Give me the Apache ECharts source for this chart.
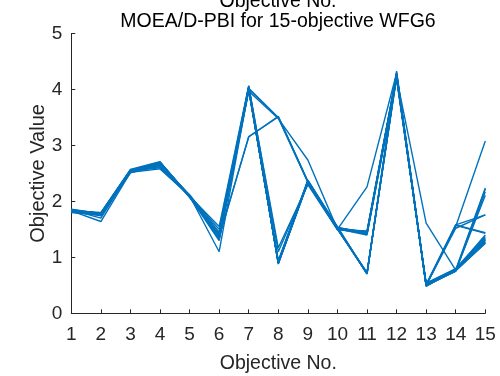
<!DOCTYPE html>
<html>
<head>
<meta charset="utf-8">
<script src="https://cdn.jsdelivr.net/npm/echarts@6/dist/echarts.min.js"></script>
<style>
  html, body { margin: 0; padding: 0; background: #fff; }
  #main { width: 500px; height: 376px; }
</style>
</head>
<body>
<div id="main"></div>
<script>
// objective index on the x axis
var objectives = [1, 2, 3, 4, 5, 6, 7, 8, 9, 10, 11, 12, 13, 14, 15];
var yTicks = [0, 1, 2, 3, 4, 5];

// final population, one row per solution
var solutions = [
  [1.84, 1.78, 2.55, 2.68, 2.09, 1.38, 4.02, 0.90, 2.35, 1.52, 1.45, 4.25, 0.50, 0.77, 1.30],
  [1.82, 1.77, 2.54, 2.70, 2.10, 1.36, 4.00, 0.92, 2.36, 1.53, 1.43, 4.22, 0.52, 0.78, 1.35],
  [1.85, 1.79, 2.56, 2.66, 2.08, 1.40, 4.05, 0.88, 2.33, 1.50, 1.47, 4.28, 0.49, 0.76, 1.25],
  [1.80, 1.76, 2.52, 2.64, 2.11, 1.33, 3.98, 0.93, 2.37, 1.54, 1.41, 4.20, 0.53, 0.79, 1.40],
  [1.83, 1.80, 2.57, 2.71, 2.07, 1.42, 4.03, 0.91, 2.34, 1.51, 0.72, 4.30, 0.51, 0.77, 2.22],
  [1.81, 1.75, 2.53, 2.69, 2.10, 1.35, 4.01, 0.89, 2.35, 1.52, 0.70, 4.26, 0.50, 0.75, 2.17],
  [1.86, 1.78, 2.55, 2.67, 2.09, 1.39, 4.06, 0.90, 2.36, 1.50, 0.73, 4.24, 0.48, 0.78, 1.28],
  [1.84, 1.74, 2.51, 2.65, 2.12, 1.45, 3.99, 0.94, 2.38, 1.55, 0.71, 4.33, 0.52, 1.58, 1.44],
  [1.82, 1.77, 2.56, 2.62, 2.10, 1.50, 4.04, 1.17, 2.30, 1.49, 1.46, 4.27, 0.50, 1.55, 3.08],
  [1.85, 1.70, 2.54, 2.60, 2.09, 1.55, 4.07, 1.10, 2.32, 1.51, 1.40, 4.18, 0.54, 0.80, 1.37],
  [1.83, 1.78, 2.55, 2.68, 2.10, 1.32, 4.02, 3.50, 2.35, 1.52, 1.44, 4.23, 0.51, 0.77, 1.32],
  [1.81, 1.76, 2.53, 2.66, 2.08, 1.30, 3.97, 3.48, 2.74, 1.50, 2.26, 4.29, 0.50, 1.52, 1.76],
  [1.84, 1.79, 2.56, 2.70, 2.09, 1.37, 3.15, 3.52, 2.36, 1.53, 0.72, 4.21, 1.61, 0.77, 1.25],
  [1.83, 1.64, 2.52, 2.58, 2.10, 1.10, 4.01, 0.91, 2.35, 1.52, 1.44, 4.24, 0.51, 0.76, 2.11],
  [1.82, 1.77, 2.55, 2.69, 2.09, 1.37, 4.00, 0.90, 2.34, 1.51, 0.71, 4.26, 0.50, 1.58, 1.76],
  [1.84, 1.78, 2.54, 2.67, 2.10, 1.41, 4.03, 0.92, 2.36, 1.53, 1.45, 4.22, 0.52, 0.77, 1.31],
  [1.85, 1.77, 2.56, 2.68, 2.08, 1.36, 4.02, 0.89, 2.35, 1.52, 0.72, 4.27, 0.49, 0.78, 2.24],
  [1.83, 1.79, 2.55, 2.70, 2.09, 1.34, 4.04, 0.91, 2.37, 1.50, 1.42, 4.29, 0.50, 0.76, 1.27],
  [1.84, 1.78, 2.53, 2.69, 2.10, 1.39, 4.01, 3.49, 2.34, 1.51, 0.71, 4.24, 0.51, 1.57, 1.43],
  [1.82, 1.76, 2.55, 2.66, 2.09, 1.35, 3.16, 3.51, 2.35, 1.52, 1.44, 4.26, 0.50, 0.77, 1.33]
];

var textColor = '#262626';
var fontFam = '"Liberation Sans", Arial, sans-serif';

var series = solutions.map(function (row) {
  return {
    type: 'line',
    symbol: 'none',
    silent: true,
    lineStyle: { color: '#0072BD', width: 1.4 },
    data: row.map(function (v, i) { return [objectives[i], v]; })
  };
});

var chart = echarts.init(document.getElementById('main'));
chart.setOption({
  animation: false,
  backgroundColor: '#fff',
  grid: { left: 71.3, right: 14.7, top: 33.5, bottom: 62.7, containLabel: false, outerBoundsMode: 'none' },
  graphic: [
    {
      type: 'text', x: 278, y: 2, silent: true,
      style: { text: 'Objective No.', fill: '#000', fontSize: 19.5, fontFamily: fontFam, align: 'center', verticalAlign: 'middle' }
    },
    {
      type: 'text', x: 278, y: 21.6, silent: true,
      style: { text: 'MOEA/D-PBI for 15-objective WFG6', fill: '#000', fontSize: 19.5, fontFamily: fontFam, align: 'center', verticalAlign: 'middle' }
    }
  ],
  xAxis: {
    type: 'value',
    min: 1, max: 15, interval: 1,
    name: 'Objective No.',
    nameLocation: 'middle',
    nameGap: 40,
    nameMoveOverlap: false,
    nameTextStyle: { color: textColor, fontSize: 19.5, fontFamily: fontFam },
    axisLine: { lineStyle: { color: textColor, width: 1 } },
    axisTick: { inside: true, length: 4, lineStyle: { color: textColor } },
    axisLabel: { color: textColor, fontSize: 19, fontFamily: fontFam, margin: 12 },
    splitLine: { show: false }
  },
  yAxis: {
    type: 'value',
    min: yTicks[0], max: yTicks[yTicks.length - 1], interval: 1,
    name: 'Objective Value',
    nameLocation: 'middle',
    nameGap: 23,
    nameMoveOverlap: false,
    nameTextStyle: { color: textColor, fontSize: 20, fontFamily: fontFam },
    axisLine: { show: true, lineStyle: { color: textColor, width: 1 } },
    axisTick: { show: true, inside: true, length: 4, lineStyle: { color: textColor } },
    axisLabel: { color: textColor, fontSize: 19, fontFamily: fontFam, margin: 9 },
    splitLine: { show: false }
  },
  series: series
});
</script>
</body>
</html>
